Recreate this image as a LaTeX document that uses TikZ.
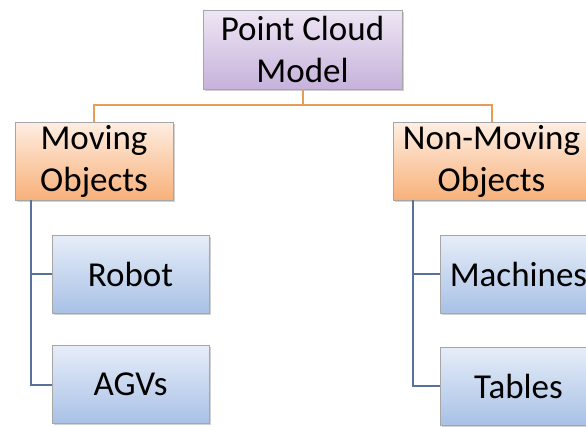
\documentclass[tikz,border=0pt]{standalone}
\usepackage{fontspec}
\setmainfont{Carlito}
\usepackage{tikz}
\usetikzlibrary{shadows,calc}

\definecolor{rootTop}{HTML}{EEE6F4}
\definecolor{rootBot}{HTML}{C6B2DB}
\definecolor{grpTop}{HTML}{FEEEE2}
\definecolor{grpBot}{HTML}{F8B079}
\definecolor{leafTop}{HTML}{E6EDF8}
\definecolor{leafBot}{HTML}{A9C1E6}
\definecolor{orangeLine}{HTML}{E59D58}
\definecolor{blueLine}{HTML}{58739A}
\definecolor{boxEdge}{HTML}{A6A6A6}

\begin{document}
\begin{tikzpicture}[
			x=1pt, y=-1pt,
			box/.style={rectangle, draw=boxEdge, line width=0.8pt, align=center, inner sep=0pt,
				font=\fontsize{35}{42}\selectfont,
				drop shadow={shadow xshift=1.5pt, shadow yshift=-1.5pt, opacity=0.3, fill=black!60}},
			root/.style={box, top color=rootTop, bottom color=rootBot, minimum width=199pt, minimum height=79pt},
			group/.style={box, top color=grpTop, bottom color=grpBot, minimum height=78pt},
			leaf/.style={box, top color=leafTop, bottom color=leafBot, minimum width=157pt, minimum height=78pt},
			upper/.style={draw=orangeLine, line width=2pt},
			lower/.style={draw=blueLine, line width=2pt}
			]
			\useasboundingbox (0,0) rectangle (586,426);
			
			% --------------------------------------------------------------------
			% joints of the tree
			% --------------------------------------------------------------------
			\coordinate (bus) at (302.5,105);
			\coordinate (ltrunk) at (31,200);
			\coordinate (rtrunk) at (413,200);
			
			% --------------------------------------------------------------------
			% boxes
			% --------------------------------------------------------------------
			\node[root] (pcm) at (302.5,49.5) {Point Cloud\\Model};
			
			\node[group, minimum width=158pt] (mov) at (94,161) {Moving\\Objects};
			\node[group, minimum width=197pt] (nmov) at (491.5,161.5) {Non-Moving\\Objects};
			
			\node[leaf] (robot) at (130.5,274) {Robot};
			\node[leaf] (agvs) at (130.5,384.5) {AGVs};
			
			\node[leaf] (mach) at (518.5,274) {Machines};
			\node[leaf] (tabl) at (518.5,386) {Tables};
			
			% top level
			\draw[upper] (pcm.south) -- (bus) -| (mov.north);
			\draw[upper] (bus) -| ($(nmov.north)+(0.5,0)$);
			
			% left branch
			\draw[lower] (ltrunk) |- (robot.west);
			\draw[lower] (ltrunk) |- (agvs.west);
			
			% right branch
			\draw[lower] (rtrunk) |- (mach.west);
			\draw[lower] (rtrunk) |- (tabl.west);
			
		\end{tikzpicture}
\end{document}
